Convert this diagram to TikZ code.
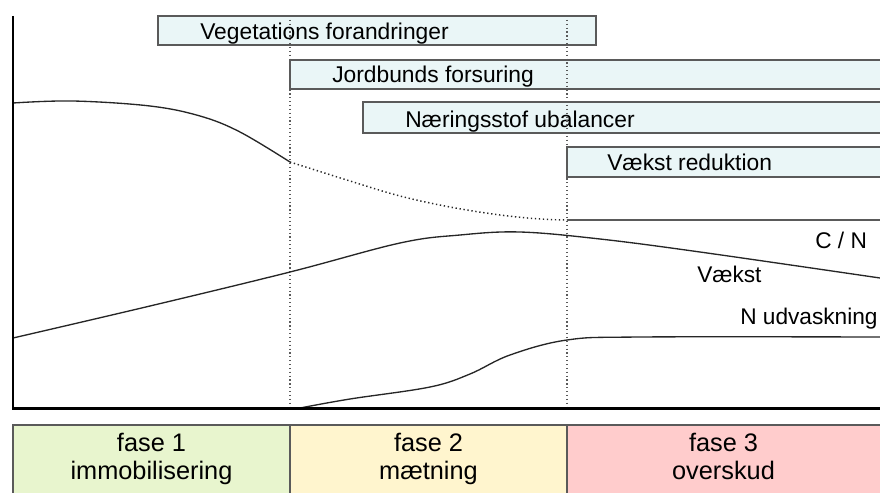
\documentclass[tikz,border=0pt]{standalone}
\usepackage{fontspec}
\setmainfont{Liberation Sans}
\usetikzlibrary{calc}
\usepackage{xcolor}
\definecolor{barfill}{RGB}{234,246,247}
\definecolor{edgegrey}{RGB}{90,90,90}
\definecolor{fase1col}{RGB}{232,245,206}
\definecolor{fase2col}{RGB}{255,245,206}
\definecolor{fase3col}{RGB}{255,204,204}
\tikzset{
  barbox/.style={draw=edgegrey, fill=barfill, line width=0.9pt},
  barlbl/.style={anchor=base west, inner sep=0pt, font=\fontsize{17.1}{19}\selectfont},
  curvelbl/.style={anchor=base west, inner sep=0pt, font=\fontsize{17}{19}\selectfont},
  fasebox/.style={draw=edgegrey, line width=0.8pt},
  faselbl/.style={align=center, inner sep=0pt, font=\fontsize{19}{19.5}\selectfont},
  curve/.style={black!85, line width=1pt, smooth, tension=0.6}
}
\begin{document}
\begin{tikzpicture}[x=0.75pt, y=-0.75pt]
\useasboundingbox (0,0) rectangle (880,492);
% bars
\draw[barbox] (158,16) rectangle (596,45);
\draw[barbox] (290,60) rectangle (884,89);
\draw[barbox] (363,102) rectangle (884,133);
\draw[barbox] (567,147) rectangle (884,177);
\node[barlbl] (veg) at (200,39.5) {Vegetations forandringer};
\node[barlbl] (jord) at (332,82) {Jordbunds forsuring};
\node[barlbl] (naer) at (405,127) {Næringsstof ubalancer};
\node[barlbl] (vred) at (607,170) {Vækst reduktion};
% phase borders
\draw[edgegrey, dotted, line width=0.9pt] (290,16) -- (290,408);
\draw[edgegrey, dotted, line width=0.9pt] (567,16) -- (567,408);
% C/N
\draw[curve] plot coordinates {(13,103) (73,101) (150,106) (200,116) (240,132) (290,162)};
\draw[curve, dotted, line width=1.1pt] plot coordinates {(290,162) (350,181) (400,196) (450,207) (500,215) (540,219) (567,220)};
\draw[edgegrey, line width=1pt] (567,220) -- (880,220);
% Vaekst
\draw[curve] plot coordinates {(13,338) (150,306) (290,272) (400,243) (460,235) (520,232) (600,239) (700,252) (880,278)};
% N udvaskning
\draw[curve] plot coordinates {(300,408) (350,399) (430,387) (470,374) (510,355) (567,340) (640,337) (880,337)};
\node[curvelbl] (cn) at (815,248) {C / N};
\node[curvelbl] (vaekst) at (697,282) {Vækst};
\node[curvelbl] (nudv) at (740,324) {N udvaskning};
% axes
\draw[black, line width=2pt] (13,16) -- (13,408.5) -- (882,408.5);
% phases
\draw[fasebox, fill=fase1col] (13,425) rectangle (290,495);
\draw[fasebox, fill=fase2col] (290,425) rectangle (567,495);
\draw[fasebox, fill=fase3col] (567,425) rectangle (884,495);
\node[faselbl] (f1) at (151.5,460) {fase 1\strut\\immobilisering\strut};
\node[faselbl] (f2) at (428.5,460) {fase 2\strut\\mætning\strut};
\node[faselbl] (f3) at (723.5,460) {fase 3\strut\\overskud\strut};
\end{tikzpicture}
\end{document}
